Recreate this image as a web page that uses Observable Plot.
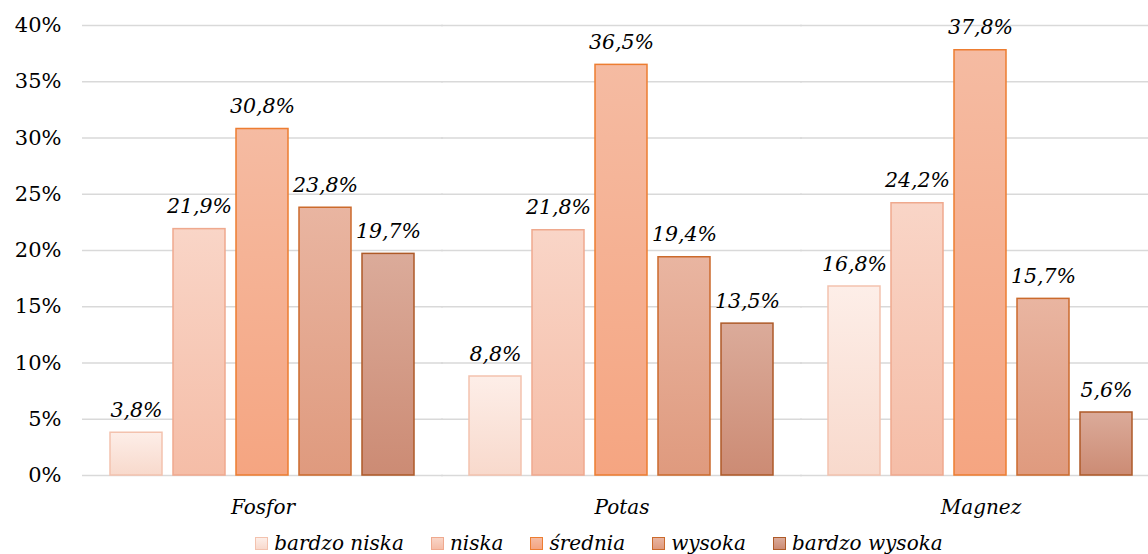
<!DOCTYPE html>
<html>
<head>
<meta charset="utf-8">
<script src="https://cdn.jsdelivr.net/npm/d3@7"></script>
<script src="https://cdn.jsdelivr.net/npm/@observablehq/plot@0.6"></script>
<style>
  html, body { margin: 0; padding: 0; background: #fff; }
  #chart { width: 1148px; font-family: "DejaVu Serif", serif; }
  .legend { display: flex; justify-content: center; align-items: center; gap: 27px;
    font-family: "DejaVu Serif", serif; font-style: italic; font-size: 20px; color: #000;
    height: 26px; margin-top: 2px; padding-left: 50px; box-sizing: border-box; width: 1148px; }
  .legend .item { display: flex; align-items: center; }
  .legend .sw { width: 11px; height: 11px; border: 1.5px solid; margin-right: 6px; }
</style>
</head>
<body>
<div id="chart"></div>
<script>
// ---- data ----
const groups = ["Fosfor", "Potas", "Magnez"];
const levels = ["bardzo niska", "niska", "średnia", "wysoka", "bardzo wysoka"];
const bardzoNiska   = [3.8, 8.8, 16.8];
const niska         = [21.9, 21.8, 24.2];
const srednia       = [30.8, 36.5, 37.8];
const wysoka        = [23.8, 19.4, 15.7];
const bardzoWysoka  = [19.7, 13.5, 5.6];
const yTicks = [0, 5, 10, 15, 20, 25, 30, 35, 40];

// ---- styles (gradient top, gradient bottom, border) ----
const styles = [
  {top: "#fdeee8", bottom: "#f8d9cc", stroke: "#f3c2ae"},
  {top: "#f9d5c7", bottom: "#f5bda7", stroke: "#efa98e"},
  {top: "#f5bba2", bottom: "#f5a581", stroke: "#ed7d31"},
  {top: "#e9b5a1", bottom: "#df9a7e", stroke: "#cb6a2c"},
  {top: "#dbab9a", bottom: "#cc8b74", stroke: "#ae5a28"}
];

const seriesValues = [bardzoNiska, niska, srednia, wysoka, bardzoWysoka];
const table = [];
levels.forEach((lev, i) => {
  groups.forEach((g, j) => {
    table.push({group: g, level: lev, li: i, value: seriesValues[i][j]});
  });
});

const fmt = v => v.toFixed(1).replace(".", ",") + "%";

const barMarks = levels.map((lev, i) =>
  Plot.barY(table.filter(d => d.level === lev), {
    fx: "group", x: "level", y: "value",
    fill: `url(#grad${i})`, stroke: styles[i].stroke, strokeWidth: 1.5
  })
);

const chart = Plot.plot({
  width: 1148,
  height: 528,
  marginLeft: 82,
  marginRight: 0,
  marginTop: 25,
  marginBottom: 53,
  style: {fontFamily: "DejaVu Serif, serif", fontSize: "20px", color: "#000", background: "#fff"},
  fx: {domain: groups, paddingInner: 0.14, paddingOuter: 0.0525, align: 0.66, label: null},
  x: {domain: levels, paddingInner: 0.17, paddingOuter: 0, axis: null},
  y: {domain: [0, 40], label: null},
  marks: [
    Plot.gridY(yTicks, {stroke: "#d9d9d9", strokeOpacity: 1, strokeWidth: 1.5, insetLeft: -26, insetRight: -26}),
    ...barMarks,
    Plot.text(table, {
      fx: "group", x: "level", y: "value", text: d => fmt(d.value),
      lineAnchor: "bottom", dy: -16, fontStyle: "italic", fontSize: 20.5, fill: "#000"
    }),
    Plot.axisY(yTicks, {
      tickSize: 0, tickPadding: 47, tickFormat: d => d + "%", fontSize: 21, anchor: "left", label: null
    }),
    Plot.axisFx({
      anchor: "bottom", tickSize: 0, tickPadding: 24, fontStyle: "italic", fontSize: 20, label: null
    })
  ]
});

// gradient defs
const svg = d3.select(chart);
const defs = svg.insert("defs", ":first-child");
styles.forEach((s, i) => {
  const lg = defs.append("linearGradient").attr("id", `grad${i}`)
    .attr("x1", 0).attr("y1", 0).attr("x2", 0).attr("y2", 1);
  lg.append("stop").attr("offset", "0%").attr("stop-color", s.top);
  lg.append("stop").attr("offset", "100%").attr("stop-color", s.bottom);
});

document.getElementById("chart").appendChild(chart);

// legend
const legend = d3.select("#chart").append("div").attr("class", "legend");
levels.forEach((lev, i) => {
  const it = legend.append("div").attr("class", "item");
  it.append("div").attr("class", "sw")
    .style("border-color", styles[i].stroke)
    .style("background", `linear-gradient(${styles[i].top}, ${styles[i].bottom})`);
  it.append("span").text(lev);
});
</script>
</body>
</html>
